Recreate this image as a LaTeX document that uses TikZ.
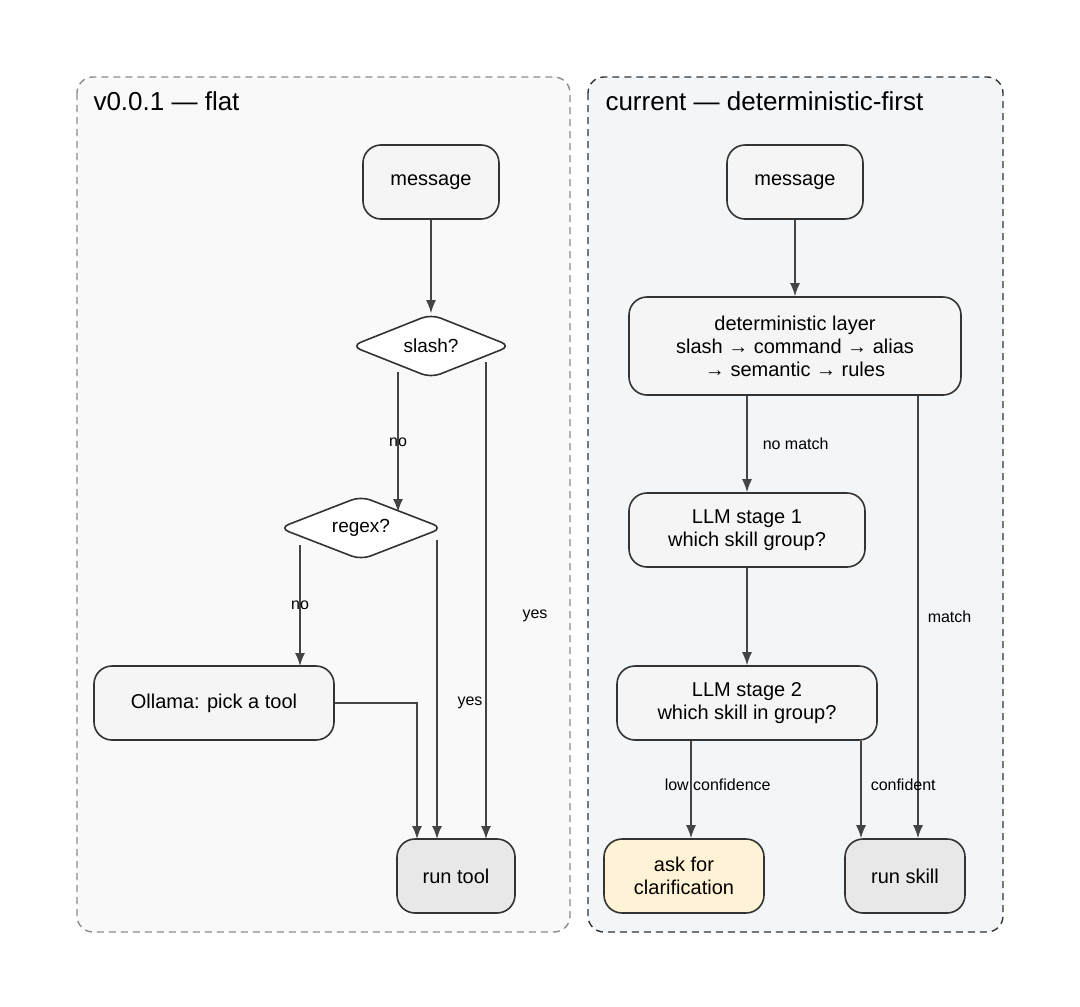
\documentclass[tikz,border=0pt]{standalone}
\usepackage{fontspec}
\setmainfont{Liberation Sans}
\usetikzlibrary{shapes.geometric,arrows.meta,backgrounds}
\definecolor{boxfill}{HTML}{F5F5F5}
\definecolor{endfill}{HTML}{E8E8E8}
\definecolor{askfill}{HTML}{FFF2D5}
\definecolor{lfill}{HTML}{F9F9F9}
\definecolor{rfill}{HTML}{F2F6F9}
\definecolor{edgec}{HTML}{444444}
\definecolor{bordc}{HTML}{333333}
\tikzset{
 box/.style={draw=bordc,line width=1.6pt,rounded corners=18pt,fill=boxfill,align=center,font=\fontsize{20}{23}\selectfont,inner sep=0pt},
 dia/.style={draw=bordc,line width=1.6pt,diamond,aspect=2.5,rounded corners=10pt,fill=white,font=\fontsize{19}{22}\selectfont,inner sep=0pt},
 arr/.style={draw=edgec,line width=1.5pt,-{Latex[length=13pt,width=10pt]}},
 lab/.style={font=\fontsize{16}{19}\selectfont,fill=none,inner sep=1pt},
 clus/.style={dashed,line width=1.4pt,rounded corners=16pt,dash pattern=on 7pt off 5pt},
 ttl/.style={font=\fontsize{26}{30}\selectfont,anchor=west}
}
\begin{document}
\begin{tikzpicture}[x=1pt,y=-1pt]
\useasboundingbox (0,0) rectangle (1080,1007);
\draw[clus,draw=gray!90,fill=lfill] (77,77) rectangle (570,932);
\draw[clus,draw=bordc,fill=rfill] (588,77) rectangle (1003,932);
\node[ttl] (t1) at (90,101) {v0.0.1 — flat};
\node[ttl] (t2) at (602,101) {current — deterministic-first};
% left
\node[box,minimum width=136,minimum height=74] (m1) at (431,182) {message};
\node[dia,minimum width=160,minimum height=64] (sl) at (431,346) {slash?};
\node[dia,minimum width=164,minimum height=64] (rx) at (361,528) {regex?};
\node[box,minimum width=240,minimum height=74] (ol) at (214,703) {Ollama: pick a tool};
\node[box,fill=endfill,minimum width=118,minimum height=74] (rt) at (456,876) {run tool};
\coordinate (a1) at (398,372); \coordinate (a2) at (398,512);
\coordinate (b1) at (486,362); \coordinate (b2) at (486,839);
\coordinate (c1) at (300,545); \coordinate (c2) at (300,666);
\coordinate (d1) at (437,540); \coordinate (d2) at (437,839);
\coordinate (e2) at (417,839);
% right
\node[box,minimum width=136,minimum height=74] (m2) at (795,182) {message};
\node[box,minimum width=332,minimum height=98] (dl) at (795,346) {deterministic layer\\slash → command → alias\\→ semantic → rules};
\node[box,minimum width=236,minimum height=74] (l1) at (747,530) {LLM stage 1\\which skill group?};
\node[box,minimum width=260,minimum height=74] (l2) at (747,703) {LLM stage 2\\which skill in group?};
\node[box,fill=askfill,minimum width=160,minimum height=74] (ask) at (684,876) {ask for\\clarification};
\node[box,fill=endfill,minimum width=120,minimum height=74] (rs) at (905,876) {run skill};
\begin{scope}[on background layer]
\end{scope}
\draw[arr] (m1) -- (sl);
\draw[arr] (a1) -- node[lab]{no} (a2);
\draw[arr] (b1) -- (b2);
\node[lab] (ly1) at (535,616) {yes};
\draw[arr] (c1) -- node[lab]{no} (c2);
\draw[arr] (d1) -- (d2);
\node[lab] (ly2) at (470,703) {yes};
\draw[arr] (ol.east) -- (417,703) -- (e2);
\draw[arr] (m2) -- (dl);
\draw[arr] (dl.south -| l1.north) -- node[lab,right=14pt]{no match} (l1.north);
\draw[arr] (dl.south -| 918,0) -- node[lab,right=8pt,pos=0.5]{match} (rs.north -| 918,0);
\draw[arr] (l1) -- (l2);
\draw[arr] (l2.south -| 691,0) -- node[lab,right=-28pt,pos=0.45]{low confidence} (ask.north -| 691,0);
\draw[arr] (l2.south -| 861,0) -- node[lab,right=8pt,pos=0.45]{confident} (rs.north -| 861,0);
\end{tikzpicture}
\end{document}
